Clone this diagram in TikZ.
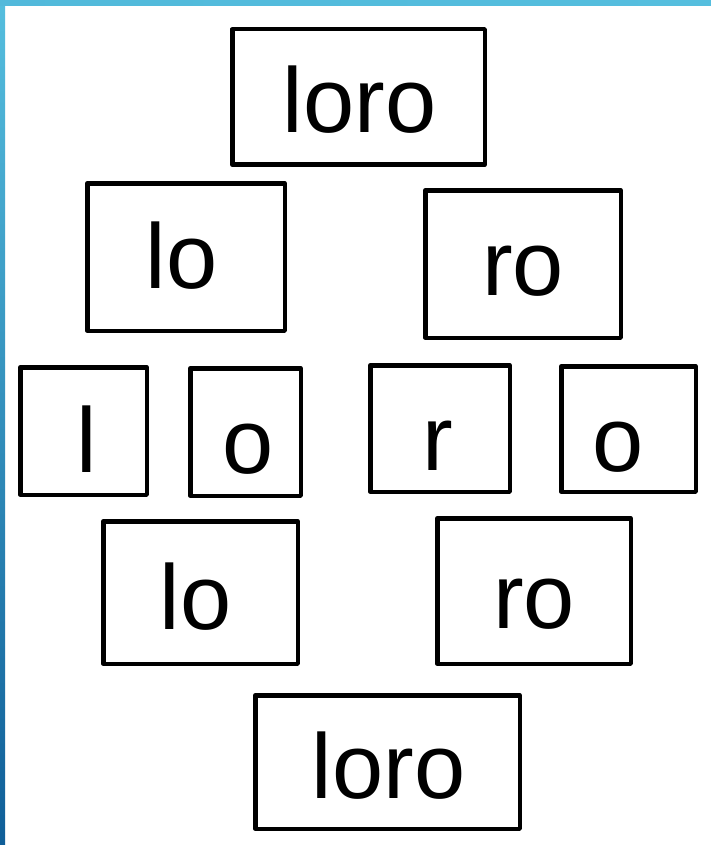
\documentclass[tikz,border=0pt]{standalone}
\usepackage{fontspec}
\setmainfont{Liberation Sans}
\definecolor{barlight}{HTML}{55BEDE}
\definecolor{bardark}{HTML}{0F5E98}
\tikzset{
  wbox/.style={draw=black, line width=4.5pt, line join=round, fill=white,
    inner sep=0pt, text depth=0pt, text height=72pt,
    font=\fontsize{92}{110}\selectfont},
}
\newcommand{\sh}[1]{\hspace*{#1}}
\begin{document}
\begin{tikzpicture}[x=1pt,y=-1pt]
\useasboundingbox (0,0) rectangle (711,845);
\fill[white] (0,0) rectangle (711,845);
\shade[top color=barlight, bottom color=bardark] (0,0) rectangle (5,845);
\shade[left color=barlight!95!bardark, right color=barlight] (0,0) rectangle (711,6);
\node[wbox, minimum width=252.5pt, minimum height=135.5pt] (a) at (358.5,97) {\sh{2pt}loro};
\node[wbox, minimum width=197.5pt, minimum height=147.5pt, text height=62pt] (b) at (186,257) {\sh{-9pt}lo};
\node[wbox, minimum width=195.5pt, minimum height=147.5pt, text height=62pt] (c) at (523,264) {ro};
\node[wbox, minimum width=126.5pt, minimum height=127.5pt, text height=82pt] (d) at (83.5,431) {\sh{7pt}l};
\node[wbox, minimum width=110.5pt, minimum height=127.5pt, text height=82pt] (e) at (245.5,432) {\sh{5pt}o};
\node[wbox, minimum width=139.5pt, minimum height=126.5pt, text height=84pt] (f) at (440,428.5) {\sh{-4pt}r};
\node[wbox, minimum width=134.5pt, minimum height=125.5pt, text height=84pt] (g) at (628.5,429) {\sh{-20pt}o};
\node[wbox, minimum width=194.5pt, minimum height=142.5pt, text height=74pt] (h) at (200.5,592.5) {\sh{-10pt}lo};
\node[wbox, minimum width=193.5pt, minimum height=145.5pt, text height=74pt] (i) at (534,591) {ro};
\node[wbox, minimum width=264.5pt, minimum height=133.5pt] (j) at (387.5,762) {\sh{2pt}loro};
\end{tikzpicture}
\end{document}
